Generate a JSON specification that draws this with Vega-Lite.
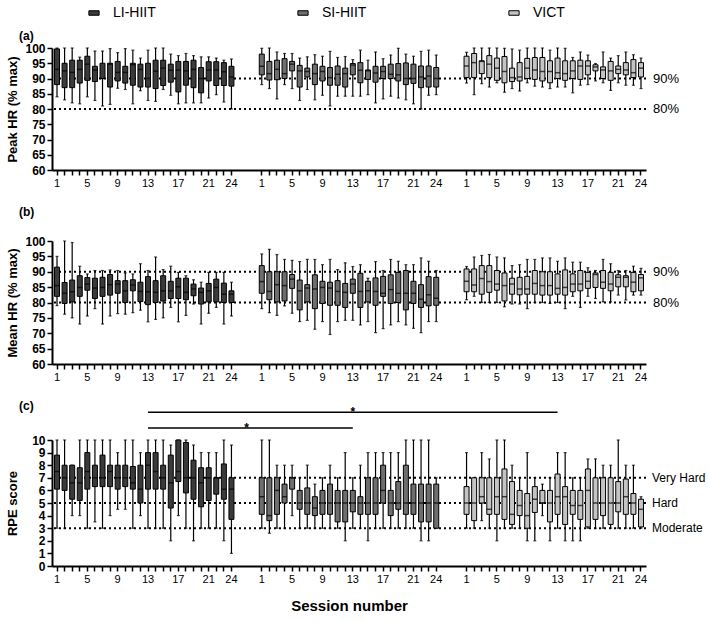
{
"$schema": "https://vega.github.io/schema/vega-lite/v6.json",
"padding": {"left": 5, "right": 5, "top": 2, "bottom": 5},
"spacing": 18,
"config": {
  "font": "Liberation Sans",
  "view": {"stroke": null},
  "axis": {"domainColor": "#000", "domainWidth": 2, "tickColor": "#000", "tickWidth": 1.5, "tickSize": 5, "labelColor": "#000", "titleColor": "#000", "grid": false},
  "axisY": {"labelFontWeight": "bold", "labelFontSize": 12, "titleFontWeight": "bold", "titleFontSize": 13, "labelPadding": 2, "titleX": -33, "labelOverlap": false},
  "axisX": {"labelFontSize": 11, "labelPadding": 2, "labelAngle": 0, "labelOverlap": false},
  "title": {"anchor": "start", "frame": "group", "dx": -33, "fontSize": 12, "fontWeight": "bold", "color": "#000"}
},
"datasets": {
  "box": [
    {"p":"a","g":"LI-HIIT","s":1,"lo":84,"q1":88,"md":93,"q3":99.7,"hi":100},
    {"p":"a","g":"LI-HIIT","s":2,"lo":83,"q1":87,"md":92.5,"q3":95,"hi":100},
    {"p":"a","g":"LI-HIIT","s":3,"lo":82,"q1":87,"md":92,"q3":96,"hi":100},
    {"p":"a","g":"LI-HIIT","s":4,"lo":81.7,"q1":88.5,"md":93,"q3":96,"hi":97},
    {"p":"a","g":"LI-HIIT","s":5,"lo":84,"q1":89.4,"md":94.7,"q3":97.3,"hi":100},
    {"p":"a","g":"LI-HIIT","s":6,"lo":82.8,"q1":89,"md":92.8,"q3":94,"hi":99},
    {"p":"a","g":"LI-HIIT","s":7,"lo":81,"q1":90,"md":90,"q3":95,"hi":99},
    {"p":"a","g":"LI-HIIT","s":8,"lo":81.5,"q1":87.2,"md":94.7,"q3":95,"hi":99.8},
    {"p":"a","g":"LI-HIIT","s":9,"lo":86.8,"q1":89.2,"md":92,"q3":95.6,"hi":98.5},
    {"p":"a","g":"LI-HIIT","s":10,"lo":86.4,"q1":88.5,"md":92,"q3":94,"hi":99.8},
    {"p":"a","g":"LI-HIIT","s":11,"lo":81.7,"q1":87.8,"md":94.5,"q3":95,"hi":99.3},
    {"p":"a","g":"LI-HIIT","s":12,"lo":86,"q1":87.2,"md":93,"q3":94.7,"hi":96.7},
    {"p":"a","g":"LI-HIIT","s":13,"lo":82.8,"q1":87.2,"md":90,"q3":95,"hi":99.3},
    {"p":"a","g":"LI-HIIT","s":14,"lo":82.5,"q1":86.7,"md":92.4,"q3":96,"hi":100},
    {"p":"a","g":"LI-HIIT","s":15,"lo":86.4,"q1":87.7,"md":93.4,"q3":96,"hi":100},
    {"p":"a","g":"LI-HIIT","s":16,"lo":84.5,"q1":88.8,"md":92.7,"q3":94.7,"hi":98},
    {"p":"a","g":"LI-HIIT","s":17,"lo":81.7,"q1":85.6,"md":92.8,"q3":95.6,"hi":97.5},
    {"p":"a","g":"LI-HIIT","s":18,"lo":82,"q1":87.8,"md":92.5,"q3":95.6,"hi":98.2},
    {"p":"a","g":"LI-HIIT","s":19,"lo":82,"q1":87,"md":93,"q3":96,"hi":97.5},
    {"p":"a","g":"LI-HIIT","s":20,"lo":82,"q1":85.3,"md":90,"q3":93.6,"hi":97.1},
    {"p":"a","g":"LI-HIIT","s":21,"lo":83.6,"q1":89.2,"md":92.8,"q3":95.5,"hi":97.1},
    {"p":"a","g":"LI-HIIT","s":22,"lo":84.7,"q1":87.7,"md":92.8,"q3":95.5,"hi":96.7},
    {"p":"a","g":"LI-HIIT","s":23,"lo":82.3,"q1":87.7,"md":92.2,"q3":95.2,"hi":96},
    {"p":"a","g":"LI-HIIT","s":24,"lo":80,"q1":87.5,"md":90.5,"q3":94,"hi":96.4},
    {"p":"a","g":"SI-HIIT","s":1,"lo":88,"q1":91.2,"md":94,"q3":98,"hi":99.9},
    {"p":"a","g":"SI-HIIT","s":2,"lo":86.7,"q1":89.5,"md":91.6,"q3":95.6,"hi":100},
    {"p":"a","g":"SI-HIIT","s":3,"lo":83.3,"q1":89.6,"md":93,"q3":96,"hi":98.7},
    {"p":"a","g":"SI-HIIT","s":4,"lo":88,"q1":90,"md":91.6,"q3":96.5,"hi":98.2},
    {"p":"a","g":"SI-HIIT","s":5,"lo":86.7,"q1":92.5,"md":94.7,"q3":95.6,"hi":98.2},
    {"p":"a","g":"SI-HIIT","s":6,"lo":82.8,"q1":87.2,"md":92.5,"q3":94.3,"hi":96.7},
    {"p":"a","g":"SI-HIIT","s":7,"lo":86.4,"q1":90.5,"md":92.3,"q3":93.4,"hi":97.1},
    {"p":"a","g":"SI-HIIT","s":8,"lo":83,"q1":88,"md":91.6,"q3":94.7,"hi":97.8},
    {"p":"a","g":"SI-HIIT","s":9,"lo":84.5,"q1":89.2,"md":92.3,"q3":94,"hi":97.3},
    {"p":"a","g":"SI-HIIT","s":10,"lo":81,"q1":87.8,"md":90.3,"q3":93.6,"hi":98.9},
    {"p":"a","g":"SI-HIIT","s":11,"lo":84.2,"q1":87.8,"md":91.4,"q3":94.1,"hi":96.9},
    {"p":"a","g":"SI-HIIT","s":12,"lo":84.2,"q1":87.2,"md":91.6,"q3":93.4,"hi":97.2},
    {"p":"a","g":"SI-HIIT","s":13,"lo":84.2,"q1":91.2,"md":94.4,"q3":94.9,"hi":96.2},
    {"p":"a","g":"SI-HIIT","s":14,"lo":84.2,"q1":88.6,"md":92.7,"q3":95.2,"hi":99.3},
    {"p":"a","g":"SI-HIIT","s":15,"lo":84.7,"q1":89.7,"md":92.5,"q3":92.8,"hi":96},
    {"p":"a","g":"SI-HIIT","s":16,"lo":82,"q1":88.8,"md":91.8,"q3":94,"hi":98.7},
    {"p":"a","g":"SI-HIIT","s":17,"lo":83.3,"q1":90,"md":92.3,"q3":94,"hi":96.5},
    {"p":"a","g":"SI-HIIT","s":18,"lo":84.2,"q1":90,"md":91.4,"q3":94.7,"hi":97.7},
    {"p":"a","g":"SI-HIIT","s":19,"lo":83.6,"q1":89.2,"md":91.2,"q3":94.9,"hi":99.9},
    {"p":"a","g":"SI-HIIT","s":20,"lo":83,"q1":88,"md":90,"q3":95.1,"hi":98},
    {"p":"a","g":"SI-HIIT","s":21,"lo":81.7,"q1":88.4,"md":90,"q3":94.7,"hi":97.3},
    {"p":"a","g":"SI-HIIT","s":22,"lo":80,"q1":87,"md":90.5,"q3":94.1,"hi":98.9},
    {"p":"a","g":"SI-HIIT","s":23,"lo":84.5,"q1":87.2,"md":90.8,"q3":94.1,"hi":99.3},
    {"p":"a","g":"SI-HIIT","s":24,"lo":84.7,"q1":87.2,"md":90,"q3":93.6,"hi":97.7},
    {"p":"a","g":"VICT","s":1,"lo":88.5,"q1":90.3,"md":94.1,"q3":97.3,"hi":98.6},
    {"p":"a","g":"VICT","s":2,"lo":84.7,"q1":90.3,"md":95.2,"q3":98.2,"hi":100},
    {"p":"a","g":"VICT","s":3,"lo":88.3,"q1":91.6,"md":95.6,"q3":95.8,"hi":100},
    {"p":"a","g":"VICT","s":4,"lo":87.2,"q1":90.3,"md":94.7,"q3":97.5,"hi":100},
    {"p":"a","g":"VICT","s":5,"lo":88.6,"q1":89.4,"md":93.4,"q3":96.7,"hi":100},
    {"p":"a","g":"VICT","s":6,"lo":85.5,"q1":88.6,"md":92.3,"q3":97.2,"hi":99.9},
    {"p":"a","g":"VICT","s":7,"lo":86.7,"q1":89,"md":90.3,"q3":93.4,"hi":99.7},
    {"p":"a","g":"VICT","s":8,"lo":85.9,"q1":89.2,"md":90.5,"q3":95.2,"hi":99.3},
    {"p":"a","g":"VICT","s":9,"lo":88.6,"q1":90,"md":93.4,"q3":96.6,"hi":100},
    {"p":"a","g":"VICT","s":10,"lo":87.5,"q1":89.7,"md":92.8,"q3":96.9,"hi":100},
    {"p":"a","g":"VICT","s":11,"lo":87.2,"q1":89.2,"md":92.3,"q3":96.9,"hi":100},
    {"p":"a","g":"VICT","s":12,"lo":86.7,"q1":88.6,"md":92.3,"q3":95.8,"hi":99.3},
    {"p":"a","g":"VICT","s":13,"lo":87.2,"q1":90,"md":91.9,"q3":96.7,"hi":100},
    {"p":"a","g":"VICT","s":14,"lo":87.2,"q1":89.4,"md":91.6,"q3":95.8,"hi":99.9},
    {"p":"a","g":"VICT","s":15,"lo":85.3,"q1":90,"md":92.5,"q3":95.8,"hi":96.9},
    {"p":"a","g":"VICT","s":16,"lo":87.8,"q1":89.7,"md":94.1,"q3":96,"hi":98.7},
    {"p":"a","g":"VICT","s":17,"lo":88,"q1":91.2,"md":94.1,"q3":95.8,"hi":97.7},
    {"p":"a","g":"VICT","s":18,"lo":89.2,"q1":92.5,"md":93.8,"q3":94.5,"hi":94.9},
    {"p":"a","g":"VICT","s":19,"lo":88.6,"q1":90,"md":92.8,"q3":93.8,"hi":98.7},
    {"p":"a","g":"VICT","s":20,"lo":86.1,"q1":89.4,"md":92.5,"q3":95.6,"hi":96.7},
    {"p":"a","g":"VICT","s":21,"lo":88.6,"q1":91.6,"md":93,"q3":94.1,"hi":97.5},
    {"p":"a","g":"VICT","s":22,"lo":87.8,"q1":91.2,"md":92.8,"q3":95.2,"hi":98.7},
    {"p":"a","g":"VICT","s":23,"lo":87.8,"q1":90.3,"md":91.9,"q3":96.2,"hi":97.8},
    {"p":"a","g":"VICT","s":24,"lo":86.7,"q1":90.5,"md":93.4,"q3":95.2,"hi":96.7},
    {"p":"b","g":"LI-HIIT","s":1,"lo":79,"q1":82,"md":85.5,"q3":91.5,"hi":95},
    {"p":"b","g":"LI-HIIT","s":2,"lo":76.2,"q1":79.7,"md":83,"q3":86.5,"hi":100},
    {"p":"b","g":"LI-HIIT","s":3,"lo":75,"q1":80.2,"md":83.5,"q3":87.3,"hi":99.5},
    {"p":"b","g":"LI-HIIT","s":4,"lo":73,"q1":82,"md":84.9,"q3":88.7,"hi":91.8},
    {"p":"b","g":"LI-HIIT","s":5,"lo":75.6,"q1":84,"md":86,"q3":88.1,"hi":89.3},
    {"p":"b","g":"LI-HIIT","s":6,"lo":78,"q1":81.3,"md":84.7,"q3":87.9,"hi":90.4},
    {"p":"b","g":"LI-HIIT","s":7,"lo":73,"q1":82,"md":84.9,"q3":88.2,"hi":90.4},
    {"p":"b","g":"LI-HIIT","s":8,"lo":75.6,"q1":82.4,"md":85.8,"q3":89.1,"hi":90.6},
    {"p":"b","g":"LI-HIIT","s":9,"lo":76.4,"q1":83,"md":86,"q3":87.1,"hi":90.4},
    {"p":"b","g":"LI-HIIT","s":10,"lo":76.2,"q1":80,"md":83.8,"q3":87.1,"hi":89.6},
    {"p":"b","g":"LI-HIIT","s":11,"lo":76.7,"q1":83.8,"md":85.7,"q3":87.4,"hi":89.3},
    {"p":"b","g":"LI-HIIT","s":12,"lo":77.5,"q1":80.3,"md":83.6,"q3":86.6,"hi":92.6},
    {"p":"b","g":"LI-HIIT","s":13,"lo":73.7,"q1":79.3,"md":83.5,"q3":88.4,"hi":90.4},
    {"p":"b","g":"LI-HIIT","s":14,"lo":74.5,"q1":80,"md":83.3,"q3":87.1,"hi":94.8},
    {"p":"b","g":"LI-HIIT","s":15,"lo":75,"q1":80.5,"md":83.8,"q3":88.7,"hi":90.7},
    {"p":"b","g":"LI-HIIT","s":16,"lo":78.4,"q1":81.3,"md":83.8,"q3":86.9,"hi":91.8},
    {"p":"b","g":"LI-HIIT","s":17,"lo":73.7,"q1":81.3,"md":85.1,"q3":87.9,"hi":89.8},
    {"p":"b","g":"LI-HIIT","s":18,"lo":75.8,"q1":80.9,"md":83.3,"q3":87.9,"hi":88.7},
    {"p":"b","g":"LI-HIIT","s":19,"lo":79.5,"q1":82.2,"md":84.4,"q3":86,"hi":87.4},
    {"p":"b","g":"LI-HIIT","s":20,"lo":73,"q1":79.5,"md":83.3,"q3":84.7,"hi":86.6},
    {"p":"b","g":"LI-HIIT","s":21,"lo":76.5,"q1":80.2,"md":83.8,"q3":86.2,"hi":89.8},
    {"p":"b","g":"LI-HIIT","s":22,"lo":78.4,"q1":80.2,"md":84.9,"q3":87.6,"hi":89.8},
    {"p":"b","g":"LI-HIIT","s":23,"lo":73,"q1":80,"md":82.7,"q3":86.3,"hi":89.8},
    {"p":"b","g":"LI-HIIT","s":24,"lo":75.6,"q1":80,"md":82.7,"q3":83.8,"hi":86.6},
    {"p":"b","g":"SI-HIIT","s":1,"lo":78,"q1":83,"md":86.8,"q3":92,"hi":95.8},
    {"p":"b","g":"SI-HIIT","s":2,"lo":76.7,"q1":80.9,"md":83.6,"q3":90,"hi":97.3},
    {"p":"b","g":"SI-HIIT","s":3,"lo":75.8,"q1":80.2,"md":85.8,"q3":90,"hi":95.6},
    {"p":"b","g":"SI-HIIT","s":4,"lo":78.9,"q1":80.5,"md":85.5,"q3":90,"hi":94},
    {"p":"b","g":"SI-HIIT","s":5,"lo":76.5,"q1":84.6,"md":87.6,"q3":89.1,"hi":93.7},
    {"p":"b","g":"SI-HIIT","s":6,"lo":73.8,"q1":77.6,"md":83.8,"q3":87.3,"hi":93.3},
    {"p":"b","g":"SI-HIIT","s":7,"lo":74.2,"q1":80.2,"md":84.7,"q3":85.8,"hi":94},
    {"p":"b","g":"SI-HIIT","s":8,"lo":71.3,"q1":78,"md":84.4,"q3":89,"hi":94},
    {"p":"b","g":"SI-HIIT","s":9,"lo":73.8,"q1":79.7,"md":84.9,"q3":86.9,"hi":92.3},
    {"p":"b","g":"SI-HIIT","s":10,"lo":69.6,"q1":79.1,"md":84.7,"q3":86.6,"hi":94},
    {"p":"b","g":"SI-HIIT","s":11,"lo":73.8,"q1":79.1,"md":83.6,"q3":87.1,"hi":90.7},
    {"p":"b","g":"SI-HIIT","s":12,"lo":74.2,"q1":78.4,"md":83.3,"q3":86.2,"hi":92.9},
    {"p":"b","g":"SI-HIIT","s":13,"lo":74.2,"q1":83,"md":86,"q3":87.6,"hi":91.7},
    {"p":"b","g":"SI-HIIT","s":14,"lo":72.7,"q1":78.4,"md":83.6,"q3":89.5,"hi":92.3},
    {"p":"b","g":"SI-HIIT","s":15,"lo":73.8,"q1":80.2,"md":83.8,"q3":86.9,"hi":87.9},
    {"p":"b","g":"SI-HIIT","s":16,"lo":70.2,"q1":79.1,"md":83.6,"q3":88,"hi":93.3},
    {"p":"b","g":"SI-HIIT","s":17,"lo":71.5,"q1":82,"md":83,"q3":88.5,"hi":90.4},
    {"p":"b","g":"SI-HIIT","s":18,"lo":72.7,"q1":79.7,"md":84.2,"q3":89,"hi":94},
    {"p":"b","g":"SI-HIIT","s":19,"lo":73.8,"q1":80,"md":83,"q3":89.8,"hi":93.4},
    {"p":"b","g":"SI-HIIT","s":20,"lo":72.7,"q1":77.6,"md":83,"q3":90.4,"hi":92.3},
    {"p":"b","g":"SI-HIIT","s":21,"lo":71.6,"q1":79.7,"md":83,"q3":86.9,"hi":92.3},
    {"p":"b","g":"SI-HIIT","s":22,"lo":70.2,"q1":78.4,"md":81.1,"q3":85.8,"hi":94.5},
    {"p":"b","g":"SI-HIIT","s":23,"lo":73.8,"q1":78.9,"md":82.5,"q3":88.4,"hi":93.4},
    {"p":"b","g":"SI-HIIT","s":24,"lo":73.8,"q1":79.1,"md":81.4,"q3":88.2,"hi":90.4},
    {"p":"b","g":"VICT","s":1,"lo":80.9,"q1":83.5,"md":86.9,"q3":90.9,"hi":91.7},
    {"p":"b","g":"VICT","s":2,"lo":82,"q1":83.5,"md":85.7,"q3":90.9,"hi":94.8},
    {"p":"b","g":"VICT","s":3,"lo":80,"q1":82.7,"md":87.8,"q3":92,"hi":95.3},
    {"p":"b","g":"VICT","s":4,"lo":80,"q1":83.3,"md":86.8,"q3":92,"hi":95.6},
    {"p":"b","g":"VICT","s":5,"lo":80,"q1":84,"md":86,"q3":90.4,"hi":94.8},
    {"p":"b","g":"VICT","s":6,"lo":78.6,"q1":80.5,"md":85.5,"q3":89.6,"hi":94.5},
    {"p":"b","g":"VICT","s":7,"lo":79.5,"q1":82.7,"md":86,"q3":87.9,"hi":92},
    {"p":"b","g":"VICT","s":8,"lo":79.5,"q1":82.5,"md":84.4,"q3":88.2,"hi":92.3},
    {"p":"b","g":"VICT","s":9,"lo":78,"q1":82.7,"md":84.4,"q3":88.5,"hi":94},
    {"p":"b","g":"VICT","s":10,"lo":80,"q1":82.7,"md":86.2,"q3":90.4,"hi":94},
    {"p":"b","g":"VICT","s":11,"lo":80,"q1":82.4,"md":85.5,"q3":90,"hi":94.5},
    {"p":"b","g":"VICT","s":12,"lo":79.7,"q1":82.4,"md":85.5,"q3":90,"hi":94.5},
    {"p":"b","g":"VICT","s":13,"lo":80,"q1":82.7,"md":84.6,"q3":89.3,"hi":93.4},
    {"p":"b","g":"VICT","s":14,"lo":78,"q1":82.4,"md":84.9,"q3":90.6,"hi":94.5},
    {"p":"b","g":"VICT","s":15,"lo":82,"q1":83.5,"md":86,"q3":89.3,"hi":93.1},
    {"p":"b","g":"VICT","s":16,"lo":78.4,"q1":83.8,"md":86,"q3":90.4,"hi":93.1},
    {"p":"b","g":"VICT","s":17,"lo":82,"q1":84.6,"md":86.9,"q3":89.8,"hi":91.3},
    {"p":"b","g":"VICT","s":18,"lo":81.3,"q1":84.9,"md":89.1,"q3":89.6,"hi":90.4},
    {"p":"b","g":"VICT","s":19,"lo":80.2,"q1":84.6,"md":86.6,"q3":90.4,"hi":94},
    {"p":"b","g":"VICT","s":20,"lo":80.2,"q1":83.8,"md":86,"q3":89.8,"hi":92.6},
    {"p":"b","g":"VICT","s":21,"lo":82.4,"q1":85.1,"md":88.2,"q3":89,"hi":90.4},
    {"p":"b","g":"VICT","s":22,"lo":80.8,"q1":85.1,"md":88.2,"q3":88.7,"hi":90.4},
    {"p":"b","g":"VICT","s":23,"lo":82.4,"q1":83.5,"md":86.6,"q3":89.8,"hi":91.8},
    {"p":"b","g":"VICT","s":24,"lo":82.4,"q1":83.8,"md":88,"q3":89.1,"hi":91.1},
    {"p":"c","g":"LI-HIIT","s":1,"lo":3,"q1":6.1,"md":7.5,"q3":8.8,"hi":10},
    {"p":"c","g":"LI-HIIT","s":2,"lo":3,"q1":6,"md":7,"q3":8,"hi":10},
    {"p":"c","g":"LI-HIIT","s":3,"lo":4,"q1":5.3,"md":6.6,"q3":8,"hi":8},
    {"p":"c","g":"LI-HIIT","s":4,"lo":4,"q1":5.2,"md":6.6,"q3":7.8,"hi":10},
    {"p":"c","g":"LI-HIIT","s":5,"lo":3,"q1":6.1,"md":7.5,"q3":9,"hi":10},
    {"p":"c","g":"LI-HIIT","s":6,"lo":3.5,"q1":6.3,"md":7,"q3":8,"hi":10},
    {"p":"c","g":"LI-HIIT","s":7,"lo":3,"q1":6.3,"md":7,"q3":8.8,"hi":10},
    {"p":"c","g":"LI-HIIT","s":8,"lo":4,"q1":6.3,"md":7.5,"q3":8,"hi":10},
    {"p":"c","g":"LI-HIIT","s":9,"lo":4.5,"q1":6.1,"md":7,"q3":8,"hi":9},
    {"p":"c","g":"LI-HIIT","s":10,"lo":4.5,"q1":6.3,"md":7,"q3":8,"hi":10},
    {"p":"c","g":"LI-HIIT","s":11,"lo":3,"q1":6.1,"md":6.6,"q3":7.9,"hi":10},
    {"p":"c","g":"LI-HIIT","s":12,"lo":4,"q1":5,"md":6.1,"q3":8,"hi":9},
    {"p":"c","g":"LI-HIIT","s":13,"lo":3,"q1":6.1,"md":8,"q3":9,"hi":10},
    {"p":"c","g":"LI-HIIT","s":14,"lo":3,"q1":6.1,"md":7.5,"q3":9,"hi":10},
    {"p":"c","g":"LI-HIIT","s":15,"lo":3,"q1":6.1,"md":7,"q3":8,"hi":10},
    {"p":"c","g":"LI-HIIT","s":16,"lo":2,"q1":4.6,"md":6.6,"q3":8.8,"hi":9.6},
    {"p":"c","g":"LI-HIIT","s":17,"lo":4,"q1":6.7,"md":7.5,"q3":10,"hi":10},
    {"p":"c","g":"LI-HIIT","s":18,"lo":3,"q1":5.8,"md":7,"q3":9.8,"hi":10},
    {"p":"c","g":"LI-HIIT","s":19,"lo":2,"q1":5.3,"md":7,"q3":8.4,"hi":9.6},
    {"p":"c","g":"LI-HIIT","s":20,"lo":3,"q1":4.7,"md":6.6,"q3":7.8,"hi":9},
    {"p":"c","g":"LI-HIIT","s":21,"lo":3,"q1":5.2,"md":7,"q3":7.8,"hi":9},
    {"p":"c","g":"LI-HIIT","s":22,"lo":3,"q1":5.7,"md":7,"q3":7,"hi":9},
    {"p":"c","g":"LI-HIIT","s":23,"lo":2,"q1":5.3,"md":6.1,"q3":8.1,"hi":10},
    {"p":"c","g":"LI-HIIT","s":24,"lo":1,"q1":3.7,"md":6.1,"q3":7,"hi":9.6},
    {"p":"c","g":"SI-HIIT","s":1,"lo":3,"q1":4.1,"md":5.5,"q3":7,"hi":10},
    {"p":"c","g":"SI-HIIT","s":2,"lo":2.6,"q1":3.6,"md":4,"q3":7,"hi":10},
    {"p":"c","g":"SI-HIIT","s":3,"lo":3,"q1":4.1,"md":6,"q3":7,"hi":8},
    {"p":"c","g":"SI-HIIT","s":4,"lo":3,"q1":5,"md":5.5,"q3":6.5,"hi":8},
    {"p":"c","g":"SI-HIIT","s":5,"lo":4,"q1":6.1,"md":7,"q3":7,"hi":8},
    {"p":"c","g":"SI-HIIT","s":6,"lo":3,"q1":4.5,"md":5,"q3":6,"hi":7},
    {"p":"c","g":"SI-HIIT","s":7,"lo":3,"q1":4.1,"md":5,"q3":6.2,"hi":8},
    {"p":"c","g":"SI-HIIT","s":8,"lo":3,"q1":4,"md":4.6,"q3":5.5,"hi":6.5},
    {"p":"c","g":"SI-HIIT","s":9,"lo":3,"q1":4.1,"md":5,"q3":6,"hi":7},
    {"p":"c","g":"SI-HIIT","s":10,"lo":3,"q1":4.1,"md":5,"q3":6.5,"hi":8},
    {"p":"c","g":"SI-HIIT","s":11,"lo":3,"q1":3.5,"md":5,"q3":6,"hi":7},
    {"p":"c","g":"SI-HIIT","s":12,"lo":2,"q1":3.5,"md":5,"q3":6,"hi":9},
    {"p":"c","g":"SI-HIIT","s":13,"lo":3,"q1":4.3,"md":5,"q3":6,"hi":7},
    {"p":"c","g":"SI-HIIT","s":14,"lo":3,"q1":4.1,"md":5,"q3":5.5,"hi":8},
    {"p":"c","g":"SI-HIIT","s":15,"lo":2,"q1":4.1,"md":5,"q3":7,"hi":9},
    {"p":"c","g":"SI-HIIT","s":16,"lo":3,"q1":4.1,"md":5,"q3":7,"hi":9},
    {"p":"c","g":"SI-HIIT","s":17,"lo":3,"q1":5,"md":6,"q3":8,"hi":9},
    {"p":"c","g":"SI-HIIT","s":18,"lo":3,"q1":4,"md":5,"q3":6,"hi":9},
    {"p":"c","g":"SI-HIIT","s":19,"lo":3,"q1":4.5,"md":5,"q3":6.7,"hi":9},
    {"p":"c","g":"SI-HIIT","s":20,"lo":3,"q1":4.1,"md":5,"q3":8,"hi":10},
    {"p":"c","g":"SI-HIIT","s":21,"lo":3,"q1":4.1,"md":5,"q3":6.5,"hi":10},
    {"p":"c","g":"SI-HIIT","s":22,"lo":2,"q1":3.5,"md":5,"q3":6.5,"hi":10},
    {"p":"c","g":"SI-HIIT","s":23,"lo":2,"q1":3.5,"md":5,"q3":6.5,"hi":10},
    {"p":"c","g":"SI-HIIT","s":24,"lo":3,"q1":3,"md":5,"q3":6.5,"hi":7},
    {"p":"c","g":"VICT","s":1,"lo":3,"q1":4.1,"md":5,"q3":6.3,"hi":9},
    {"p":"c","g":"VICT","s":2,"lo":3,"q1":3.6,"md":5,"q3":7,"hi":7},
    {"p":"c","g":"VICT","s":3,"lo":3.6,"q1":5,"md":5.5,"q3":7,"hi":9},
    {"p":"c","g":"VICT","s":4,"lo":3,"q1":4.1,"md":4.5,"q3":7,"hi":8.5},
    {"p":"c","g":"VICT","s":5,"lo":2,"q1":4.1,"md":5.5,"q3":7,"hi":10},
    {"p":"c","g":"VICT","s":6,"lo":3,"q1":3.7,"md":5.5,"q3":7.7,"hi":10},
    {"p":"c","g":"VICT","s":7,"lo":3,"q1":3.3,"md":4.1,"q3":6.7,"hi":8},
    {"p":"c","g":"VICT","s":8,"lo":3,"q1":4,"md":4.8,"q3":6,"hi":7},
    {"p":"c","g":"VICT","s":9,"lo":2,"q1":3,"md":4,"q3":5.75,"hi":9},
    {"p":"c","g":"VICT","s":10,"lo":2,"q1":4.25,"md":5.3,"q3":6.3,"hi":7},
    {"p":"c","g":"VICT","s":11,"lo":4,"q1":5,"md":5,"q3":6,"hi":6.5},
    {"p":"c","g":"VICT","s":12,"lo":2,"q1":3.5,"md":5,"q3":6,"hi":7},
    {"p":"c","g":"VICT","s":13,"lo":3,"q1":4.1,"md":5.5,"q3":7.3,"hi":9},
    {"p":"c","g":"VICT","s":14,"lo":2,"q1":3.3,"md":5.5,"q3":6.3,"hi":9},
    {"p":"c","g":"VICT","s":15,"lo":2,"q1":4.1,"md":4.8,"q3":6,"hi":7},
    {"p":"c","g":"VICT","s":16,"lo":2,"q1":3.7,"md":4.8,"q3":6,"hi":7},
    {"p":"c","g":"VICT","s":17,"lo":3,"q1":3.1,"md":6,"q3":7.7,"hi":8.5},
    {"p":"c","g":"VICT","s":18,"lo":3,"q1":3.7,"md":5,"q3":7,"hi":8.5},
    {"p":"c","g":"VICT","s":19,"lo":3,"q1":4,"md":5,"q3":7,"hi":8},
    {"p":"c","g":"VICT","s":20,"lo":3,"q1":3.3,"md":5,"q3":7,"hi":8},
    {"p":"c","g":"VICT","s":21,"lo":3,"q1":4.3,"md":5,"q3":6.7,"hi":10},
    {"p":"c","g":"VICT","s":22,"lo":3,"q1":4.1,"md":5.5,"q3":6.9,"hi":8},
    {"p":"c","g":"VICT","s":23,"lo":3,"q1":4.1,"md":5,"q3":5.75,"hi":8},
    {"p":"c","g":"VICT","s":24,"lo":3,"q1":3.1,"md":4.5,"q3":5.3,"hi":5.5}
  ],
  "ref": [
    {"p":"a","v":90,"t":"90%"},{"p":"a","v":80,"t":"80%"},
    {"p":"b","v":90,"t":"90%"},{"p":"b","v":80,"t":"80%"},
    {"p":"c","v":7,"t":"Very Hard"},{"p":"c","v":5,"t":"Hard"},{"p":"c","v":3,"t":"Moderate"}
  ],
  "sig": [
    {"from":"L13","to":"S13","y":10.95,"star":"gB"},
    {"from":"L13","to":"V13","y":12.2,"star":"S13"}
  ]
},
"vconcat": [
  {
    "width": 594, "height": 122,
    "title": {"text": "(a)", "offset": -1},
    "resolve": {"axis": {"y": "independent"}},
    "layer": [
      {"data": {"name": "ref"}, "transform": [{"filter": "datum.p === 'a'"}],
       "mark": {"type": "rule", "strokeDash": [2, 3], "strokeWidth": 2, "color": "#000"},
       "encoding": {"y": {"field": "v", "type": "quantitative", "scale": {"domain": [60, 100], "zero": false},
                          "axis": {"title": "Peak HR (% max)", "values": [60,65,70,75,80,85,90,95,100], "labelOverlap": false}}}},
      {"data": {"name": "box"},
       "resolve": {"axis": {"y": "independent"}},
       "transform": [{"filter": "datum.p === 'a'"}, {"calculate": "slice(datum.g,0,1) + datum.s", "as": "key"}],
       "encoding": {"x": {"field": "key", "type": "nominal", "title": null,
          "scale": {"type": "band", "paddingInner": 0, "paddingOuter": 0.16, "domain": ["L1","L2","L3","L4","L5","L6","L7","L8","L9","L10","L11","L12","L13","L14","L15","L16","L17","L18","L19","L20","L21","L22","L23","L24","gA","gB","gC","S1","S2","S3","S4","S5","S6","S7","S8","S9","S10","S11","S12","S13","S14","S15","S16","S17","S18","S19","S20","S21","S22","S23","S24","gD","gE","gF","V1","V2","V3","V4","V5","V6","V7","V8","V9","V10","V11","V12","V13","V14","V15","V16","V17","V18","V19","V20","V21","V22","V23","V24"]},
          "axis": {"labelExpr": "indexof(['1','5','9','13','17','21','24'], slice(datum.value,1)) >= 0 ? slice(datum.value,1) : ''",
                   "values": ["L1","L2","L3","L4","L5","L6","L7","L8","L9","L10","L11","L12","L13","L14","L15","L16","L17","L18","L19","L20","L21","L22","L23","L24","S1","S2","S3","S4","S5","S6","S7","S8","S9","S10","S11","S12","S13","S14","S15","S16","S17","S18","S19","S20","S21","S22","S23","S24","V1","V2","V3","V4","V5","V6","V7","V8","V9","V10","V11","V12","V13","V14","V15","V16","V17","V18","V19","V20","V21","V22","V23","V24"]}}},
       "layer": [
         {"mark": {"type": "rule", "color": "#000", "strokeWidth": 1.2},
          "encoding": {"y": {"field": "lo", "type": "quantitative", "scale": {"domain": [60, 100], "zero": false}, "axis": null},
                       "y2": {"field": "hi"}}},
         {"mark": {"type": "tick", "color": "#000", "thickness": 1.2, "size": 3}, "encoding": {"y": {"field": "hi", "type": "quantitative", "axis": null}}},
         {"mark": {"type": "tick", "color": "#000", "thickness": 1.2, "size": 3}, "encoding": {"y": {"field": "lo", "type": "quantitative", "axis": null}}},
         {"mark": {"type": "bar", "size": 5, "stroke": "#000", "strokeWidth": 1, "opacity": 1},
          "encoding": {"y": {"field": "q1", "type": "quantitative", "scale": {"domain": [60, 100], "zero": false}, "axis": null}, "y2": {"field": "q3"},
                       "color": {"field": "g", "type": "nominal",
                                 "scale": {"domain": ["LI-HIIT", "SI-HIIT", "VICT"], "range": ["#3a3a3a", "#6e6e6e", "#c4c4c4"]},
                                 "legend": {"orient": "none", "legendX": 31, "legendY": -46, "direction": "horizontal", "title": null,
                                            "symbolType": "M-0.5,-0.22H0.5V0.22H-0.5Z", "symbolSize": 420, "symbolStrokeColor": "#000", "symbolStrokeWidth": 1, "symbolOpacity": 1,
                                            "labelFontSize": 14, "labelColor": "#000", "labelOffset": 8, "columnPadding": 136}}}},
         {"mark": {"type": "tick", "color": "#000", "thickness": 1.5, "size": 5}, "encoding": {"y": {"field": "md", "type": "quantitative", "axis": null}}}
       ]},
      {"data": {"name": "ref"}, "transform": [{"filter": "datum.p === 'a'"}],
       "mark": {"type": "text", "align": "left", "baseline": "middle", "dx": 12, "fontSize": 13, "color": "#000"},
       "encoding": {"x": {"datum": "V24"}, "y": {"field": "v", "type": "quantitative", "axis": null}, "text": {"field": "t"}}}
    ]
  },
  {
    "width": 594, "height": 123,
    "title": {"text": "(b)", "offset": 16},
    "resolve": {"axis": {"y": "independent"}},
    "layer": [
      {"data": {"name": "ref"}, "transform": [{"filter": "datum.p === 'b'"}],
       "mark": {"type": "rule", "strokeDash": [2, 3], "strokeWidth": 2, "color": "#000"},
       "encoding": {"y": {"field": "v", "type": "quantitative", "scale": {"domain": [60, 100], "zero": false},
                          "axis": {"title": "Mean HR (% max)", "values": [60,65,70,75,80,85,90,95,100], "labelOverlap": false}}}},
      {"data": {"name": "box"},
       "resolve": {"axis": {"y": "independent"}},
       "transform": [{"filter": "datum.p === 'b'"}, {"calculate": "slice(datum.g,0,1) + datum.s", "as": "key"}],
       "encoding": {"x": {"field": "key", "type": "nominal", "title": null,
          "scale": {"type": "band", "paddingInner": 0, "paddingOuter": 0.16, "domain": ["L1","L2","L3","L4","L5","L6","L7","L8","L9","L10","L11","L12","L13","L14","L15","L16","L17","L18","L19","L20","L21","L22","L23","L24","gA","gB","gC","S1","S2","S3","S4","S5","S6","S7","S8","S9","S10","S11","S12","S13","S14","S15","S16","S17","S18","S19","S20","S21","S22","S23","S24","gD","gE","gF","V1","V2","V3","V4","V5","V6","V7","V8","V9","V10","V11","V12","V13","V14","V15","V16","V17","V18","V19","V20","V21","V22","V23","V24"]},
          "axis": {"labelExpr": "indexof(['1','5','9','13','17','21','24'], slice(datum.value,1)) >= 0 ? slice(datum.value,1) : ''",
                   "values": ["L1","L2","L3","L4","L5","L6","L7","L8","L9","L10","L11","L12","L13","L14","L15","L16","L17","L18","L19","L20","L21","L22","L23","L24","S1","S2","S3","S4","S5","S6","S7","S8","S9","S10","S11","S12","S13","S14","S15","S16","S17","S18","S19","S20","S21","S22","S23","S24","V1","V2","V3","V4","V5","V6","V7","V8","V9","V10","V11","V12","V13","V14","V15","V16","V17","V18","V19","V20","V21","V22","V23","V24"]}}},
       "layer": [
         {"mark": {"type": "rule", "color": "#000", "strokeWidth": 1.2},
          "encoding": {"y": {"field": "lo", "type": "quantitative", "scale": {"domain": [60, 100], "zero": false}, "axis": null},
                       "y2": {"field": "hi"}}},
         {"mark": {"type": "tick", "color": "#000", "thickness": 1.2, "size": 3}, "encoding": {"y": {"field": "hi", "type": "quantitative", "axis": null}}},
         {"mark": {"type": "tick", "color": "#000", "thickness": 1.2, "size": 3}, "encoding": {"y": {"field": "lo", "type": "quantitative", "axis": null}}},
         {"mark": {"type": "bar", "size": 5, "stroke": "#000", "strokeWidth": 1, "opacity": 1},
          "encoding": {"y": {"field": "q1", "type": "quantitative", "scale": {"domain": [60, 100], "zero": false}, "axis": null}, "y2": {"field": "q3"},
                       "color": {"field": "g", "type": "nominal", "legend": null}}},
         {"mark": {"type": "tick", "color": "#000", "thickness": 1.5, "size": 5}, "encoding": {"y": {"field": "md", "type": "quantitative", "axis": null}}}
       ]},
      {"data": {"name": "ref"}, "transform": [{"filter": "datum.p === 'b'"}],
       "mark": {"type": "text", "align": "left", "baseline": "middle", "dx": 12, "fontSize": 13, "color": "#000"},
       "encoding": {"x": {"datum": "V24"}, "y": {"field": "v", "type": "quantitative", "axis": null}, "text": {"field": "t"}}}
    ]
  },
  {
    "width": 594, "height": 126,
    "title": {"text": "(c)", "offset": -7},
    "resolve": {"axis": {"y": "independent"}},
    "layer": [
      {"data": {"name": "ref"}, "transform": [{"filter": "datum.p === 'c'"}],
       "mark": {"type": "rule", "strokeDash": [2, 3], "strokeWidth": 2, "color": "#000"},
       "encoding": {"y": {"field": "v", "type": "quantitative", "scale": {"domain": [0, 10], "zero": false},
                          "axis": {"title": "RPE score", "values": [0,1,2,3,4,5,6,7,8,9,10], "labelOverlap": false}}}},
      {"data": {"name": "box"},
       "resolve": {"axis": {"y": "independent"}},
       "transform": [{"filter": "datum.p === 'c'"}, {"calculate": "slice(datum.g,0,1) + datum.s", "as": "key"}],
       "encoding": {"x": {"field": "key", "type": "nominal", "title": "Session number",
          "scale": {"type": "band", "paddingInner": 0, "paddingOuter": 0.16, "domain": ["L1","L2","L3","L4","L5","L6","L7","L8","L9","L10","L11","L12","L13","L14","L15","L16","L17","L18","L19","L20","L21","L22","L23","L24","gA","gB","gC","S1","S2","S3","S4","S5","S6","S7","S8","S9","S10","S11","S12","S13","S14","S15","S16","S17","S18","S19","S20","S21","S22","S23","S24","gD","gE","gF","V1","V2","V3","V4","V5","V6","V7","V8","V9","V10","V11","V12","V13","V14","V15","V16","V17","V18","V19","V20","V21","V22","V23","V24"]},
          "axis": {"labelExpr": "indexof(['1','5','9','13','17','21','24'], slice(datum.value,1)) >= 0 ? slice(datum.value,1) : ''",
                   "values": ["L1","L2","L3","L4","L5","L6","L7","L8","L9","L10","L11","L12","L13","L14","L15","L16","L17","L18","L19","L20","L21","L22","L23","L24","S1","S2","S3","S4","S5","S6","S7","S8","S9","S10","S11","S12","S13","S14","S15","S16","S17","S18","S19","S20","S21","S22","S23","S24","V1","V2","V3","V4","V5","V6","V7","V8","V9","V10","V11","V12","V13","V14","V15","V16","V17","V18","V19","V20","V21","V22","V23","V24"],
                   "titleFontSize": 15, "titleFontWeight": "bold", "titlePadding": 14}}},
       "layer": [
         {"mark": {"type": "rule", "color": "#000", "strokeWidth": 1.2},
          "encoding": {"y": {"field": "lo", "type": "quantitative", "scale": {"domain": [0, 10], "zero": false}, "axis": null},
                       "y2": {"field": "hi"}}},
         {"mark": {"type": "tick", "color": "#000", "thickness": 1.2, "size": 3}, "encoding": {"y": {"field": "hi", "type": "quantitative", "axis": null}}},
         {"mark": {"type": "tick", "color": "#000", "thickness": 1.2, "size": 3}, "encoding": {"y": {"field": "lo", "type": "quantitative", "axis": null}}},
         {"mark": {"type": "bar", "size": 5, "stroke": "#000", "strokeWidth": 1, "opacity": 1},
          "encoding": {"y": {"field": "q1", "type": "quantitative", "scale": {"domain": [0, 10], "zero": false}, "axis": null}, "y2": {"field": "q3"},
                       "color": {"field": "g", "type": "nominal", "legend": null}}},
         {"mark": {"type": "tick", "color": "#000", "thickness": 1.5, "size": 5}, "encoding": {"y": {"field": "md", "type": "quantitative", "axis": null}}}
       ]},
      {"data": {"name": "ref"}, "transform": [{"filter": "datum.p === 'c'"}],
       "mark": {"type": "text", "align": "left", "baseline": "middle", "dx": 11, "fontSize": 12, "color": "#000"},
       "encoding": {"x": {"datum": "V24"}, "y": {"field": "v", "type": "quantitative", "axis": null}, "text": {"field": "t"}}},
      {"data": {"name": "sig"},
       "mark": {"type": "rule", "color": "#000", "strokeWidth": 1.5},
       "encoding": {"x": {"field": "from", "type": "nominal"}, "x2": {"field": "to"}, "y": {"field": "y", "type": "quantitative", "axis": null}}},
      {"data": {"name": "sig"},
       "mark": {"type": "text", "fontSize": 12, "fontWeight": "bold", "baseline": "alphabetic", "dy": 4, "color": "#000"},
       "encoding": {"x": {"field": "star", "type": "nominal"}, "y": {"field": "y", "type": "quantitative", "axis": null}, "text": {"value": "*"}}}
    ]
  }
]
}
